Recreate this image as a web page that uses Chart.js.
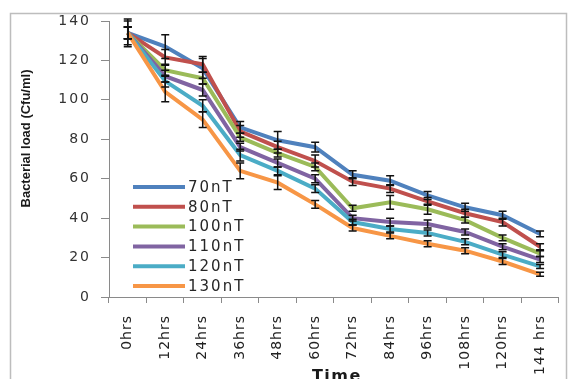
<!DOCTYPE html>
<html><head><meta charset="utf-8">
<script src="https://cdn.jsdelivr.net/npm/chart.js@4"></script>
<style>html,body{margin:0;padding:0;background:#fff;overflow:hidden}#wrap{width:569px;height:379px;position:relative}</style>
</head><body><div id="wrap"><canvas id="c" width="569" height="379"></canvas></div>
<script>
const categories = ['0hrs','12hrs','24hrs','36hrs','48hrs','60hrs','72hrs','84hrs','96hrs','108hrs','120hrs','144 hrs'];
const seriesNames = ['70nT','80nT','100nT','110nT','120nT','130nT'];
const seriesColors = ['#4F81BD','#C0504D','#9BBB59','#8064A2','#4BACC6','#F79646'];
const values70  = [134, 127,   116, 86, 79.5, 76, 62,   59,   51.5, 45.5, 41.5, 32];
const values80  = [134, 121.5, 118, 84, 76,   69, 58.5, 55,   48.5, 42.5, 38,   25.5];
const values100 = [134, 115,   111, 81, 73,   66, 45,   48,   44.5, 39,   30,   22];
const values110 = [134, 112,   105, 76, 68,   60, 40,   38,   37,   33,   25.5, 19];
const values120 = [134, 109.5, 97,  72, 64,   55, 38,   34.5, 32.5, 28,   21.5, 15.5];
const values130 = [134, 104,   90,  64, 58,   47, 35,   31,   27,   23.5, 18,   11.5];
const err70  = [6, 6, 5, 3, 4.5, 2.5, 2,   2.5, 2,   2,   2,   1.5];
const err80  = [3, 4, 4, 3, 3,   3,   2,   2,   2,   2,   2,   1.5];
const err100 = [3, 3, 3, 2, 2,   2,   1.5, 3.5, 2.5, 1.5, 1.5, 1.5];
const err110 = [3, 3, 3, 2, 2,   2,   1.5, 2,   2,   1.5, 1.5, 1.5];
const err120 = [3, 3, 3, 3, 2,   2,   1.5, 1.5, 1.5, 1.5, 1.5, 1];
const err130 = [7, 5, 4, 4, 3.5, 2,   1.5, 1.5, 1.5, 1.5, 1.5, 1];
const yTickValues = [0, 20, 40, 60, 80, 100, 120, 140];
const yTitle = 'Bacterial load (Cfu/ml)';
const xTitle = 'Time';

const allValues = [values70, values80, values100, values110, values120, values130];
const allErrors = [err70, err80, err100, err110, err120, err130];

const datasets = allValues.map((v, i) => ({
  label: seriesNames[i],
  data: v,
  borderColor: seriesColors[i],
  backgroundColor: seriesColors[i],
  borderWidth: 4,
  pointRadius: 0,
  tension: 0,
  fill: false,
  order: allValues.length - i,
  errors: allErrors[i]
}));

function wrapLabels(scale, spacing) {
  if (scale._wrappedLS) return;
  const orig = scale.drawLabels.bind(scale);
  scale.drawLabels = function (ca) {
    const ctx = scale.ctx;
    ctx.save();
    ctx.letterSpacing = spacing;
    orig(ca);
    ctx.restore();
  };
  scale._wrappedLS = true;
}

const framePlugin = {
  id: 'frame',
  beforeDraw(chart) {
    const ctx = chart.ctx;
    ctx.save();
    ctx.fillStyle = '#fff';
    ctx.fillRect(0, 0, chart.width, chart.height);
    ctx.strokeStyle = '#bdbdbd';
    ctx.lineWidth = 1.5;
    ctx.strokeRect(10.5, 13.5, 556, 420);
    ctx.restore();
    wrapLabels(chart.scales.y, '2px');
    wrapLabels(chart.scales.x, '1px');
  },
  afterDraw(chart) {
    const ctx = chart.ctx;
    ctx.save();
    ctx.fillStyle = '#1a1a1a';
    ctx.font = 'bold 13px "Liberation Sans", Arial, sans-serif';
    ctx.translate(26, 138.5);
    ctx.rotate(-Math.PI / 2);
    ctx.textAlign = 'center';
    ctx.textBaseline = 'middle';
    ctx.fillText(yTitle, 0, 0);
    ctx.restore();

    ctx.save();
    ctx.fillStyle = '#1a1a1a';
    ctx.font = 'bold 16px "DejaVu Sans", sans-serif';
    ctx.letterSpacing = '1.5px';
    ctx.textAlign = 'center';
    ctx.textBaseline = 'alphabetic';
    const ca = chart.chartArea;
    ctx.fillText(xTitle, (ca.left + ca.right) / 2 + 3, 381);
    ctx.restore();

    // legend
    ctx.save();
    chart.data.datasets.forEach((ds, i) => {
      const y = 187 + i * 19.8;
      ctx.strokeStyle = ds.borderColor;
      ctx.lineWidth = 4;
      ctx.beginPath();
      ctx.moveTo(133, y);
      ctx.lineTo(185, y);
      ctx.stroke();
      ctx.fillStyle = '#262626';
      ctx.font = '15px "DejaVu Sans", sans-serif';
      ctx.letterSpacing = '2px';
      ctx.textAlign = 'left';
      ctx.textBaseline = 'middle';
      ctx.fillText(ds.label, 188, y + 1);
    });
    ctx.restore();
  },
  afterDatasetsDraw(chart) {
    const ctx = chart.ctx;
    const ys = chart.scales.y;
    ctx.save();
    ctx.strokeStyle = '#111';
    ctx.lineWidth = 1.5;
    chart.data.datasets.forEach((ds, i) => {
      const meta = chart.getDatasetMeta(i);
      meta.data.forEach((pt, j) => {
        const v = ds.data[j], e = ds.errors[j];
        const yt = ys.getPixelForValue(v + e), yb = ys.getPixelForValue(v - e);
        const x = pt.x;
        ctx.beginPath();
        ctx.moveTo(x, yt); ctx.lineTo(x, yb);
        ctx.moveTo(x - 4, yt); ctx.lineTo(x + 4, yt);
        ctx.moveTo(x - 4, yb); ctx.lineTo(x + 4, yb);
        ctx.stroke();
      });
    });
    ctx.restore();
  }
};

new Chart(document.getElementById('c'), {
  type: 'line',
  data: { labels: categories, datasets: datasets },
  options: {
    responsive: false,
    animation: false,
    devicePixelRatio: 1,
    layout: { padding: { left: 0, top: 21, right: 3, bottom: 0 } },
    plugins: { legend: { display: false }, tooltip: { enabled: false } },
    scales: {
      x: {
        type: 'category',
        offset: true,
        afterFit(s) { s.height = 82; },
        grid: { display: true, drawOnChartArea: false, drawTicks: true, tickLength: 6, offset: true, color: '#8a8a8a' },
        border: { display: true, color: '#8a8a8a', width: 1 },
        ticks: {
          autoSkip: false, maxRotation: 90, minRotation: 90, padding: 12,
          color: '#222', font: { family: '"DejaVu Sans", sans-serif', size: 14 }
        },
        title: { display: false }
      },
      y: {
        min: 0, max: 140,
        afterFit(s) { s.width = 109; },
        afterBuildTicks(s) { s.ticks = yTickValues.map(v => ({ value: v })); },
        grid: { display: true, drawOnChartArea: false, drawTicks: true, tickLength: 8, color: '#8a8a8a' },
        border: { display: true, color: '#8a8a8a', width: 1 },
        ticks: {
          padding: 10, color: '#333',
          font: { family: '"DejaVu Sans", sans-serif', size: 14 }
        },
        title: { display: false }
      }
    }
  },
  plugins: [framePlugin]
});
</script></body></html>
